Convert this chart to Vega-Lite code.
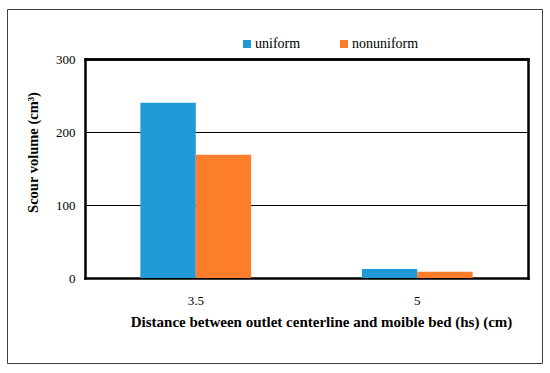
{
  "$schema": "https://vega.github.io/schema/vega-lite/v6.json",
  "width": 535,
  "height": 354,
  "autosize": {"type": "none"},
  "padding": {"left": 7, "top": 9, "right": 8, "bottom": 10},
  "background": "white",
  "config": {
    "view": {"stroke": "#404040", "strokeWidth": 1},
    "font": "Liberation Serif"
  },
  "data": {
    "values": [
      {"hs": "3.5", "bed": "uniform", "volume": 240},
      {"hs": "3.5", "bed": "nonuniform", "volume": 169},
      {"hs": "5", "bed": "uniform", "volume": 12.5},
      {"hs": "5", "bed": "nonuniform", "volume": 8.5}
    ]
  },
  "resolve": {"axis": {"x": "independent", "y": "independent"}},
  "layer": [
    {
      "mark": {"type": "bar"},
      "encoding": {
        "x": {
          "field": "hs", "type": "nominal", "sort": ["3.5", "5"],
          "scale": {"range": [78, 521], "paddingInner": 0.5, "paddingOuter": 0.25},
          "axis": {
            "orient": "bottom", "offset": -85, "labelAngle": 0,
            "domain": true, "domainColor": "black", "domainWidth": 2.5, "domainCap": "square",
            "ticks": false, "labelPadding": 16, "labelFontSize": 13, "labelFont": "Liberation Serif", "labelColor": "black",
            "title": "Distance between outlet centerline and moible bed (hs) (cm)",
            "titleFont": "Liberation Serif", "titleColor": "black", "titleX": 314,
            "titleFontSize": 15, "titleFontWeight": "bold", "titlePadding": 7
          }
        },
        "xOffset": {"field": "bed", "type": "nominal", "sort": ["uniform", "nonuniform"]},
        "y": {
          "field": "volume", "type": "quantitative",
          "scale": {"domain": [0, 300], "range": [269, 50], "nice": false, "zero": true},
          "axis": {
            "orient": "left", "offset": -78, "values": [0, 100, 200, 300],
            "domain": true, "domainColor": "black", "domainWidth": 2.5, "domainCap": "square",
            "ticks": false, "labelPadding": 10, "labelFontSize": 13, "labelFont": "Liberation Serif", "labelColor": "black",
            "grid": true, "gridColor": "black", "gridWidth": {"condition": {"test": "datum.value === 300", "value": 2.5}, "value": 1},
            "title": "Scour volume (cm³)", "titleFont": "Liberation Serif", "titleColor": "black", "titleY": 143,
            "titleFontSize": 14.5, "titleFontWeight": "bold", "titlePadding": 15
          }
        },
        "color": {
          "field": "bed", "type": "nominal", "sort": ["uniform", "nonuniform"],
          "scale": {"domain": ["uniform", "nonuniform"], "range": ["#1f9ad6", "#fd7e2a"]},
          "legend": {
            "orient": "none", "legendX": 233, "legendY": 28, "direction": "horizontal",
            "title": null, "symbolType": "square", "symbolSize": 64, "symbolStrokeWidth": 0,
            "labelFont": "Liberation Serif", "labelColor": "black",
            "labelFontSize": 14, "labelOffset": 1, "columnPadding": 36
          }
        }
      }
    },
    {
      "mark": {"type": "bar", "opacity": 0},
      "encoding": {
        "x": {
          "field": "hs", "type": "nominal", "sort": ["3.5", "5"],
          "axis": {"orient": "top", "offset": -50, "labels": false, "ticks": false, "title": null,
                   "domain": true, "domainColor": "black", "domainWidth": 2.5, "domainCap": "square"}
        },
        "y": {
          "field": "volume", "type": "quantitative",
          "axis": {"orient": "right", "offset": -14, "labels": false, "ticks": false, "title": null, "grid": false,
                   "domain": true, "domainColor": "black", "domainWidth": 2.5, "domainCap": "square"}
        }
      }
    }
  ]
}
